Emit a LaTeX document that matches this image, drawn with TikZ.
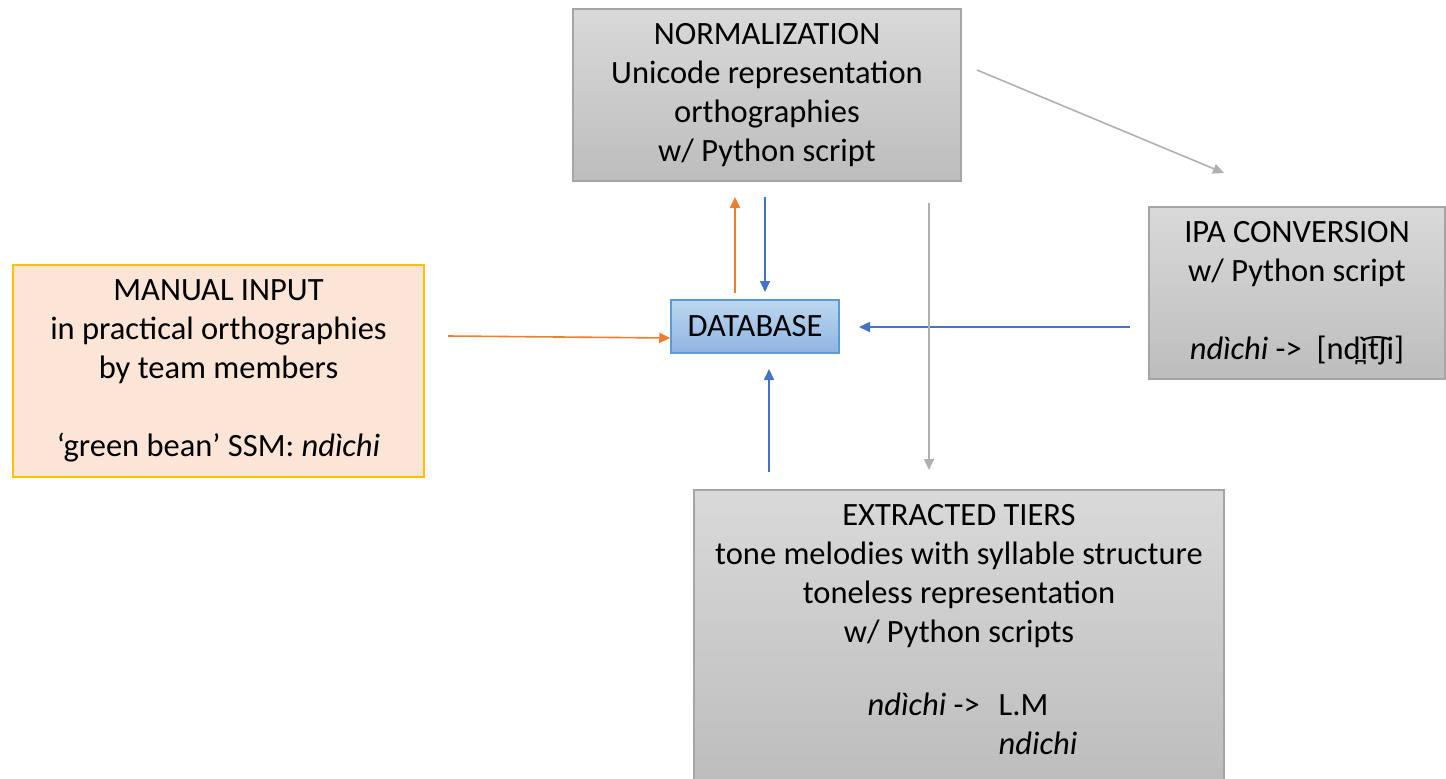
\documentclass[tikz,border=0pt]{standalone}
\usepackage{fontspec}
\setmainfont{Carlito}
\usetikzlibrary{arrows.meta}
\definecolor{gtop}{HTML}{D9D9D9}
\definecolor{gbot}{HTML}{BDBDBD}
\definecolor{gline}{HTML}{A5A5A5}
\definecolor{peach}{HTML}{FBE5D6}
\definecolor{gold}{HTML}{FFC000}
\definecolor{btop}{HTML}{BDD7EE}
\definecolor{bbot}{HTML}{8FB4E3}
\definecolor{bline}{HTML}{5B9BD5}
\definecolor{orangeA}{HTML}{ED7D31}
\definecolor{blueA}{HTML}{4472C4}
\definecolor{grayA}{HTML}{B0B0B0}
\tikzset{
  txt/.style={font=\fontsize{32.5}{39}\selectfont},
  graybox/.style={rectangle, draw=gline, line width=1.5pt, top color=gtop, bottom color=gbot, align=center, inner sep=0pt, txt},
  peachbox/.style={rectangle, draw=gold, line width=1.5pt, fill=peach, align=center, inner sep=0pt, txt},
  dbbox/.style={rectangle, draw=bline, line width=1.5pt, top color=btop, bottom color=bbot, align=center, inner sep=0pt, txt},
  arr/.style={line width=1.6pt, -{Triangle[length=11pt,width=10pt]}},
}
\begin{document}
\begin{tikzpicture}[x=1pt,y=-1pt]
\useasboundingbox (0,0) rectangle (1446,779);
\begin{scope}
\clip (0,0) rectangle (1446,779);
\node[graybox, minimum width=388pt, minimum height=172pt] (norm) at (767,95)
  {NORMALIZATION\\Unicode representation\\orthographies\\w/ Python script};
\node[graybox, minimum width=296pt, minimum height=172pt] (ipa) at (1297,293)
  {IPA CONVERSION\\w/ Python script\\[39pt]\textit{ndìchi} ->\ \ [nd̪ìt͡ʃi]};
\node[peachbox, minimum width=411pt, minimum height=212pt] (man) at (218.5,371)
  {MANUAL INPUT\\in practical orthographies\\by team members\\[39pt]‘green bean’ SSM: \textit{ndìchi}};
\node[dbbox, minimum width=168pt, minimum height=53pt] (db) at (755,326.5)
  {DATABASE};
\node[graybox, minimum width=530pt, minimum height=291pt] (ext) at (959,635.5)
  {EXTRACTED TIERS\\tone melodies with syllable structure\\toneless representation\\w/ Python scripts\\[39pt]
   \hspace*{27pt}\begin{tabular}{@{}r@{\hspace{19pt}}l@{}}\textit{ndìchi} -> & L.M\\ & \textit{ndichi}\end{tabular}};
\end{scope}
\coordinate (m1) at (448,336);
\coordinate (u1) at (735,293);
\coordinate (u2) at (735,197);
\coordinate (d1) at (765,197);
\coordinate (d2) at (765,292);
\coordinate (i1) at (1130,327);
\coordinate (i2) at (859,327);
\coordinate (e1) at (769,472);
\coordinate (e2) at (769,369);
\coordinate (g1) at (977,70);
\coordinate (g2) at (1224,173);
\coordinate (g3) at (929,203);
\coordinate (g4) at (929,470);
\draw[arr, orangeA] (m1) -- (db.west |- 0,338);
\draw[arr, orangeA] (u1) -- (u2);
\draw[arr, blueA] (d1) -- (d2);
\draw[arr, blueA] (i1) -- (i2);
\draw[arr, blueA] (e1) -- (e2);
\draw[arr, grayA] (g1) -- (g2);
\draw[arr, grayA] (g3) -- (g4);
\end{tikzpicture}
\end{document}
